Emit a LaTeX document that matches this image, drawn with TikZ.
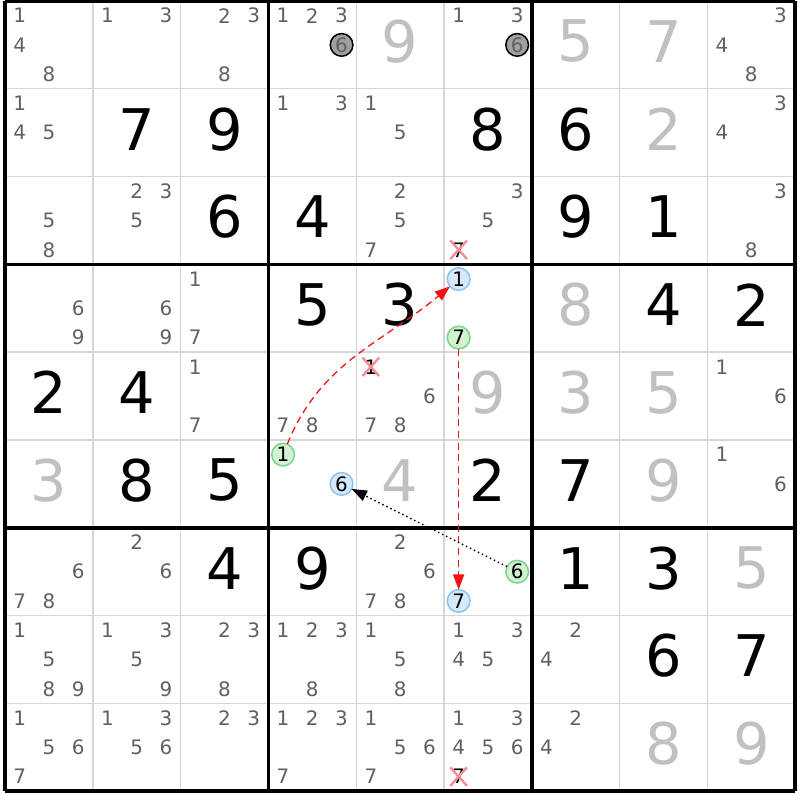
\documentclass[tikz,border=0pt]{standalone}
\usepackage{fontspec}
\setmainfont{DejaVu Sans}
\usetikzlibrary{arrows.meta,shapes.misc}

\definecolor{candgray}{RGB}{96,96,100}
\definecolor{givengray}{RGB}{192,192,192}
\definecolor{gridgray}{RGB}{214,214,214}
\definecolor{onfill}{RGB}{214,232,252}
\definecolor{ondraw}{RGB}{140,195,240}
\definecolor{offfill}{RGB}{210,242,210}
\definecolor{offdraw}{RGB}{120,214,140}
\definecolor{pinfill}{RGB}{160,160,160}
\definecolor{strikered}{RGB}{242,140,150}
\definecolor{linkred}{RGB}{240,20,20}

\begin{document}
\begin{tikzpicture}[
        x = 2.634cm, y = -2.634cm,
        outer sep = 0mm, inner sep = 0mm,
        cand/.style = {text = candgray, font = \fontsize{17}{17}\selectfont},
        given/.style = {text = givengray, font = \fontsize{49}{49}\selectfont},
        solved/.style = {text = black, font = \fontsize{49}{49}\selectfont},
        thingrid/.style = {draw = gridgray, line width = 1.2pt},
        boxgrid/.style = {draw = black, line width = 3pt},
        ring/.style = {
          circle, minimum size = .68cm, line width = 1.3pt,
          font = \fontsize{17}{17}\selectfont,
        },
        onring/.style = {ring, draw = ondraw, fill = onfill},
        offring/.style = {ring, draw = offdraw, fill = offfill},
        pinring/.style = {ring, draw = black, fill = pinfill, text = candgray},
        struck/.style = {
          cross out, draw = strikered, line width = 2pt, inner sep = .06cm,
          font = \fontsize{17}{17}\selectfont,
        },
        strong/.style = {
          draw = linkred, line width = 1.1pt, dash pattern = on 6pt off 4pt,
          -{Triangle[length = 13pt, width = 9.5pt]},
        },
        weak/.style = {
          draw = black, line width = 1.2pt, dash pattern = on 1.2pt off 2.6pt,
          -{Triangle[length = 13pt, width = 9.5pt]},
        }
      ]

      \fill[white] (-0.057,-0.0114) rectangle (9.0547,9.1002);
      \useasboundingbox (-0.057,-0.0114) rectangle (9.0547,9.1002);

      \foreach \i in {1,...,8} {
        \draw[thingrid] (\i,0) to (\i,9);
        \draw[thingrid] (0,\i) to (9,\i);
      }
      \foreach \i in {0,3,6,9} {
        \draw[boxgrid] (\i,0) to (\i,9);
        \draw[boxgrid] (0,\i) to (9,\i);
      }

      % big digits
      \foreach \r/\c/\v in {1/5/9, 1/7/5, 1/8/7, 2/8/2, 4/7/8, 5/6/9, 5/7/3, 5/8/5,
          6/1/3, 6/5/4, 6/8/9, 7/9/5, 9/8/8, 9/9/9}
        \node[given] (v\r\c) at (\c-.5,\r-.54) {\v};
      \foreach \r/\c/\v in {2/2/7, 2/3/9, 2/6/8, 2/7/6, 3/3/6, 3/4/4, 3/7/9, 3/8/1,
          4/4/5, 4/5/3, 4/8/4, 4/9/2, 5/1/2, 5/2/4, 6/2/8, 6/3/5, 6/6/2, 6/7/7,
          7/3/4, 7/4/9, 7/7/1, 7/8/3, 8/8/6, 8/9/7}
        \node[solved] (v\r\c) at (\c-.5,\r-.54) {\v};

      % pencil marks
      \foreach \r/\c/\ds in {1/1/{1,4,8}, 1/2/{1,3}, 1/3/{2,3,8}, 1/4/{1,2,3}, 1/6/{1,3},
          1/9/{3,4,8}, 2/1/{1,4,5}, 2/4/{1,3}, 2/5/{1,5}, 2/9/{3,4},
          3/1/{5,8}, 3/2/{2,3,5}, 3/5/{2,5,7}, 3/6/{3,5}, 3/9/{3,8},
          4/1/{6,9}, 4/2/{6,9}, 4/3/{1,7}, 5/3/{1,7}, 5/4/{7,8}, 5/5/{6,7,8},
          5/9/{1,6}, 6/9/{1,6}, 7/1/{6,7,8}, 7/2/{2,6}, 7/5/{2,6,7,8},
          8/1/{1,5,8,9}, 8/2/{1,3,5,9}, 8/3/{2,3,8}, 8/4/{1,2,3,8}, 8/5/{1,5,8},
          8/6/{1,3,4,5}, 8/7/{2,4}, 9/1/{1,5,6,7}, 9/2/{1,3,5,6}, 9/3/{2,3},
          9/4/{1,2,3,7}, 9/5/{1,5,6,7}, 9/6/{1,3,4,5,6}, 9/7/{2,4}}
        \foreach \d in \ds
          \node[cand] (c\r\c\d) at ({\c-1+(mod(\d-1,3)+.5)/3},{\r-1+(div(\d-1,3)+.5)/3}) {\d};

      \node[pinring] (p14) at (3.8333,.5) {6};
      \node[pinring] (p16) at (5.8333,.5) {6};

      \node[struck] (x36) at (5.1667,2.8333) {7};
      \node[struck] (x55) at (4.1667,4.1667) {1};
      \node[struck] (x96) at (5.1667,8.8333) {7};

      \node[onring] (b46) at (5.1667,3.1667) {1};
      \node[offring] (g46) at (5.1667,3.8333) {7};
      \node[offring] (g64) at (3.1667,5.1667) {1};
      \node[onring] (b64) at (3.8333,5.5) {6};
      \node[offring] (g76) at (5.8333,6.5) {6};
      \node[onring] (b76) at (5.1667,6.8333) {7};

      \draw[strong] (g64) to[out = 68, in = -140] (b46);
      \draw[strong] (g46) to (b76);
      \draw[weak] (g76) to (b64);
    \end{tikzpicture}
\end{document}
